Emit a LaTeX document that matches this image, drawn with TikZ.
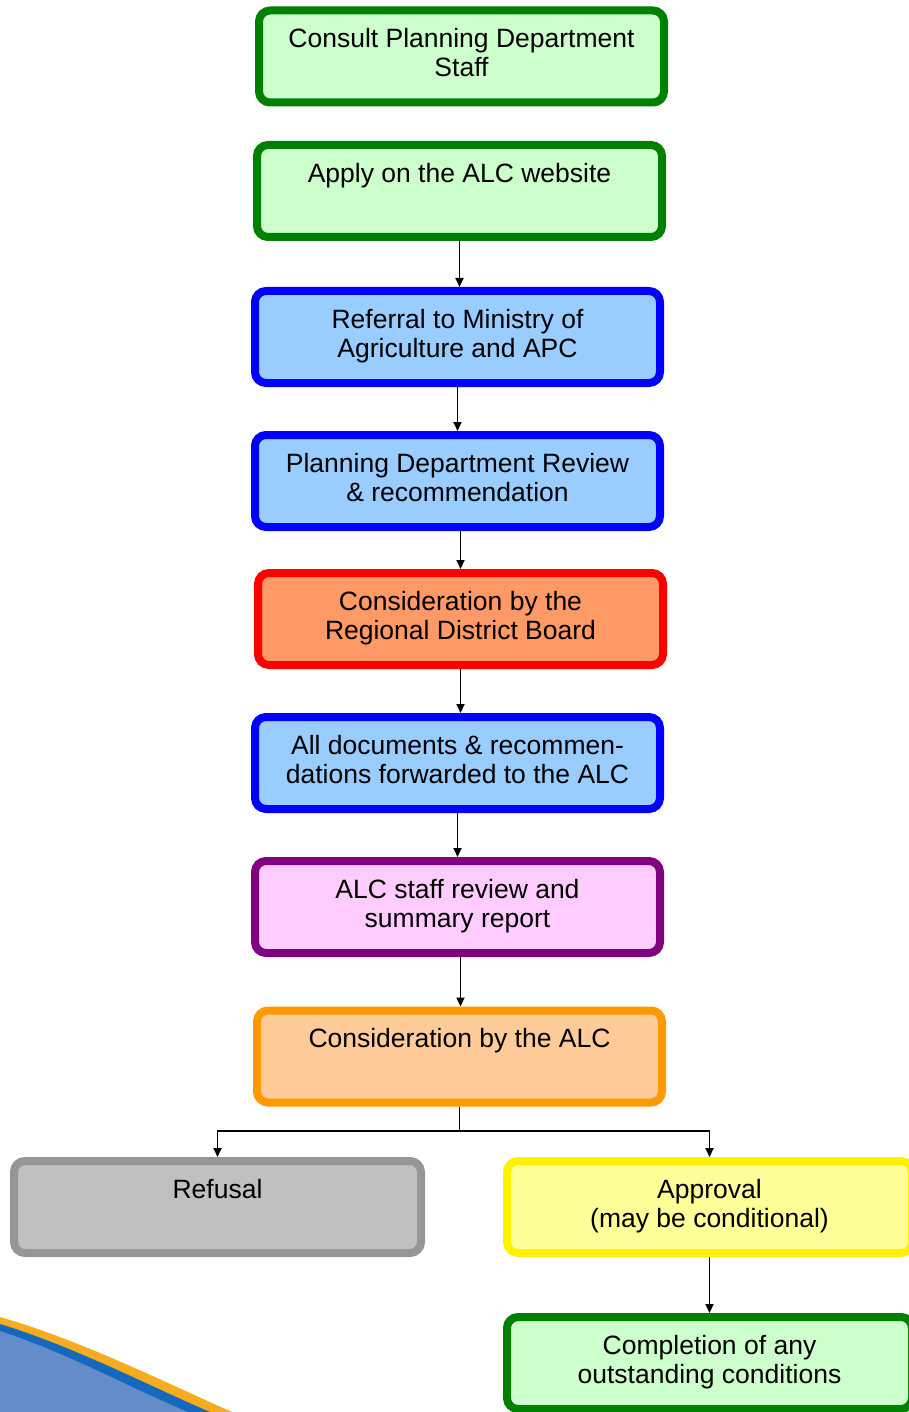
\documentclass[tikz,border=0pt]{standalone}
\usepackage{fontspec}
\setmainfont{Liberation Sans}
\usetikzlibrary{arrows.meta}

\definecolor{dkgreen}{RGB}{0,128,0}
\definecolor{ltgreen}{RGB}{204,255,204}
\definecolor{ltblue}{RGB}{153,204,255}
\definecolor{salmon}{RGB}{255,153,102}
\definecolor{dkpurple}{RGB}{128,0,128}
\definecolor{ltpink}{RGB}{255,204,255}
\definecolor{dkorange}{RGB}{255,153,0}
\definecolor{ltorange}{RGB}{255,204,153}
\definecolor{dkgray}{RGB}{150,150,150}
\definecolor{ltgray}{RGB}{192,192,192}
\definecolor{ltyellow}{RGB}{255,255,153}
\definecolor{swgold}{RGB}{246,172,30}
\definecolor{swblue}{RGB}{20,105,190}
\definecolor{swfill}{RGB}{100,140,200}

\newcommand{\boxtext}[1]{\parbox[c][56pt][t]{400pt}{\centering #1}}

\begin{document}
\begin{tikzpicture}[x=1pt,y=-1pt,
    stepbox/.style={rectangle, rounded corners=11pt, line width=8pt,
        minimum width=405pt, minimum height=92pt, inner sep=0pt,
        font=\fontsize{26.5}{29}\selectfont},
    greenbox/.style={stepbox, draw=dkgreen, fill=ltgreen},
    bluebox/.style={stepbox, draw=blue, fill=ltblue},
    arr/.style={line width=1.9pt, -{Triangle[width=8pt,length=9pt]}}]
    \useasboundingbox (0,0) rectangle (909,1412);
    \clip (0,0) rectangle (909,1412);

    % Swoosh in the corner
    \fill[swgold] (0,1317) .. controls (80,1340) and (160,1380) .. (232,1412) -- (0,1412) -- cycle;
    \fill[swblue] (0,1324) .. controls (75,1347) and (145,1384) .. (210,1412) -- (0,1412) -- cycle;
    \fill[swfill] (0,1331) .. controls (70,1354) and (130,1388) .. (188,1412) -- (0,1412) -- cycle;

    % Steps
    \node[greenbox] (consult) at (461.5,56.5) {\boxtext{Consult Planning Department\\Staff}};
    \node[greenbox] (apply) at (459.5,191) {\boxtext{Apply on the ALC website}};
    \node[bluebox] (referral) at (457.5,337) {\boxtext{Referral to Ministry of\\Agriculture and APC}};
    \node[bluebox] (review) at (457.5,481) {\boxtext{Planning Department Review\\\& recommendation}};
    \node[stepbox, draw=red, fill=salmon] (board) at (460.5,619) {\boxtext{Consideration by the\\Regional District Board}};
    \node[bluebox] (forward) at (457.5,763) {\boxtext{All documents \& recommen-\\dations forwarded to the ALC}};
    \node[stepbox, draw=dkpurple, fill=ltpink] (staff) at (457.5,907) {\boxtext{ALC staff review and\\summary report}};
    \node[stepbox, draw=dkorange, fill=ltorange] (alc) at (459.5,1056.5) {\boxtext{Consideration by the ALC}};

    % Outcomes
    \node[stepbox, minimum width=407pt, draw=dkgray, fill=ltgray] (refusal) at (217.5,1207) {\boxtext{Refusal}};
    \node[stepbox, draw=yellow, fill=ltyellow] (approval) at (709.5,1207) {\boxtext{Approval\\(may be conditional)}};
    \node[greenbox] (completion) at (709.5,1363) {\boxtext{Completion of any\\outstanding conditions}};

    % Connectors
    \draw[arr] (apply.south) -- (apply.south |- referral.north);
    \draw[arr] (referral.south) -- (referral.south |- review.north);
    \draw[arr] ([xshift=3pt]review.south) -- ([xshift=3pt]review.south |- board.north);
    \draw[arr] (board.south) -- (board.south |- forward.north);
    \draw[arr] (forward.south) -- (forward.south |- staff.north);
    \draw[arr] ([xshift=3pt]staff.south) -- ([xshift=3pt]staff.south |- alc.north);
    \coordinate (split) at (459.5,1131);
    \draw[line width=1.9pt] (alc.south) -- (split);
    \draw[arr] (split) -| (refusal.north);
    \draw[arr] (split) -| (approval.north);
    \draw[arr] (approval.south) -- (completion.north);
\end{tikzpicture}
\end{document}
